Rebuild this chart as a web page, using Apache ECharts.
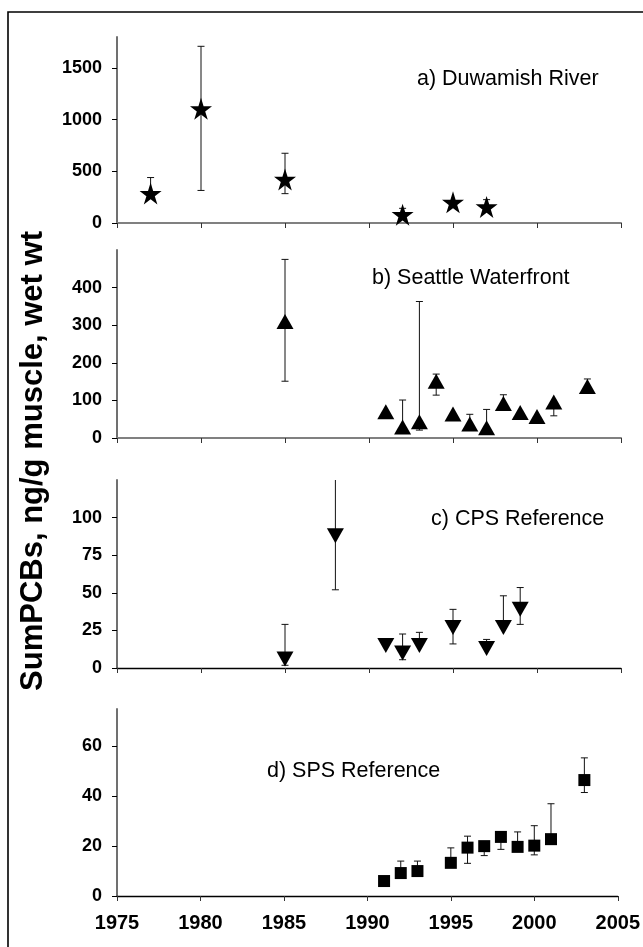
<!DOCTYPE html>
<html>
<head>
<meta charset="utf-8">
<script src="https://cdn.jsdelivr.net/npm/echarts@6/dist/echarts.min.js"></script>
<style>html,body{margin:0;padding:0;background:#fff}#c{width:643px;height:947px}</style>
</head>
<body>
<div id="c"></div>
<script>
// ---- data ----
const panelTitles = ['a) Duwamish River', 'b) Seattle Waterfront', 'c) CPS Reference', 'd) SPS Reference'];
const yAxisTitle = 'SumPCBs, ng/g muscle, wet wt';
const xTicks = [1975, 1980, 1985, 1990, 1995, 2000, 2005];

const yearsA = [1977, 1980, 1985, 1992, 1995, 1997];
const meanA  = [285, 1105, 422, 81, 200, 155];
const upperA = [440, 1710, 675, 142, null, 226];
const lowerA = [null, 315, 284, null, null, null];

const yearsB = [1985, 1991, 1992, 1993, 1994, 1995, 1996, 1997, 1998, 1999, 2000, 2001, 2003];
const meanB  = [310, 70, 29, 43, 151, 64, 37, 27, 92, 68, 57, 96, 137];
const upperB = [475, null, 101, 363, 170, null, 63, 76, 115, null, null, null, 157];
const lowerB = [151, null, null, 21, 114, null, null, null, null, null, null, 59, null];

const yearsC = [1985, 1988, 1991, 1992, 1993, 1995, 1997, 1998, 1999];
const meanC  = [6, 88, 15, 10, 15, 27, 13, 27, 39];
const upperC = [29, 130, null, 22.6, 23.7, 39, 19, 48, 53.5];
const lowerC = [1.8, 52, null, 5.5, null, 16, null, null, 29];

const yearsD = [1991, 1992, 1993, 1995, 1996, 1997, 1998, 1999, 2000, 2001, 2003];
const meanD  = [6.0, 9.2, 10, 13.3, 19.4, 20, 23.7, 19.7, 20.2, 22.8, 46.5];
const upperD = [null, 14, 14, 19.3, 24, null, null, 25.7, 28.2, 37, 55.4];
const lowerD = [null, null, null, null, 13.1, 16.2, 18.7, null, 16.5, null, 41.5];

const yMax   = [1800, 500, 125, 75];
const yStep  = [500, 100, 25, 20];
const yTickValues = [[0, 500, 1000, 1500], [0, 100, 200, 300, 400], [0, 25, 50, 75, 100], [0, 20, 40, 60]];

// ---- layout / style ----
const FONT = '"Liberation Sans", Arial, sans-serif';
const grids = [
  {top: 37, height: 186},
  {top: 250, height: 188},
  {top: 480, height: 188},
  {top: 709, height: 187}
];
const STAR = 'path://M50,0 L61.2,34.5 L97.6,34.5 L68.2,55.9 L79.4,90.5 L50,69.1 L20.6,90.5 L31.8,55.9 L2.4,34.5 L38.8,34.5 Z';
const markers = [
  {symbol: STAR, size: 22, rotate: 0},
  {symbol: 'triangle', size: [17, 15], rotate: 0},
  {symbol: 'triangle', size: [17, 15], rotate: 180},
  {symbol: 'rect', size: [12, 12], rotate: 0}
];
const panels = [
  [yearsA, meanA, lowerA, upperA],
  [yearsB, meanB, lowerB, upperB],
  [yearsC, meanC, lowerC, upperC],
  [yearsD, meanD, lowerD, upperD]
];
const xLineColor = ['#808080', '#808080', '#000', '#000'];

function errRender(params, api) {
  const x = api.value(0), m = api.value(1), lo = api.value(2), hi = api.value(3);
  const pm = api.coord([x, m]);
  const children = [];
  const cap = 3.5;
  const st = {stroke: '#111', lineWidth: 1};
  function add(v) {
    if (v == null || isNaN(v)) return;
    const p = api.coord([x, v]);
    children.push({type: 'line', shape: {x1: pm[0], y1: pm[1], x2: p[0], y2: p[1]}, style: st});
    children.push({type: 'line', shape: {x1: p[0] - cap, y1: p[1], x2: p[0] + cap, y2: p[1]}, style: st});
  }
  add(hi); add(lo);
  return {type: 'group', children: children};
}

const option = {
  animation: false,
  backgroundColor: '#fff',
  grid: grids.map(g => ({left: 117, right: 22, top: g.top, height: g.height, containLabel: false})),
  xAxis: grids.map((g, i) => ({
    type: 'value', gridIndex: i, min: 1975, max: 2005, interval: 5,
    axisLine: {show: true, onZero: false, lineStyle: {color: xLineColor[i], width: i < 2 ? 2 : 1.3}},
    axisTick: {show: true, inside: false, length: 5, lineStyle: {color: '#333', width: 1}},
    axisLabel: {show: i === 3, margin: 17, fontFamily: FONT, fontWeight: 'bold', fontSize: 20, color: '#000',
      formatter: v => xTicks.includes(v) ? String(v) : ''},
    splitLine: {show: false}
  })),
  yAxis: grids.map((g, i) => ({
    type: 'value', gridIndex: i, min: 0, max: yMax[i], interval: yStep[i],
    axisLine: {show: true, lineStyle: {color: '#707070', width: 2}},
    axisTick: {show: true, inside: false, length: 5, customValues: yTickValues[i], lineStyle: {color: '#000', width: 1}},
    axisLabel: {margin: 15, customValues: yTickValues[i], fontFamily: FONT, fontWeight: 'bold', fontSize: 18, color: '#000',
      formatter: v => String(v)},
    splitLine: {show: false}
  })),
  series: [],
  graphic: [
    {type: 'rect', z: 100, silent: true, shape: {x: 8, y: 12, width: 700, height: 1000},
     style: {fill: 'none', stroke: '#000', lineWidth: 1.6}},
    {type: 'text', rotation: Math.PI / 2, x: 33, y: 461,
     style: {text: yAxisTitle, font: 'bold 31px ' + FONT, fill: '#000', textAlign: 'center', textVerticalAlign: 'middle'}},
    {type: 'text', x: 417, y: 79, style: {text: panelTitles[0], font: '21.5px ' + FONT, fill: '#000', textVerticalAlign: 'middle'}},
    {type: 'text', x: 372, y: 278, style: {text: panelTitles[1], font: '21.5px ' + FONT, fill: '#000', textVerticalAlign: 'middle'}},
    {type: 'text', x: 431, y: 519, style: {text: panelTitles[2], font: '21.5px ' + FONT, fill: '#000', textVerticalAlign: 'middle'}},
    {type: 'text', x: 267, y: 771, style: {text: panelTitles[3], font: '21.5px ' + FONT, fill: '#000', textVerticalAlign: 'middle'}}
  ]
};

panels.forEach((p, i) => {
  const [yrs, mean, lo, hi] = p;
  option.series.push({
    type: 'custom', xAxisIndex: i, yAxisIndex: i, clip: true, z: 2,
    renderItem: errRender,
    data: yrs.map((y, k) => [y, mean[k], lo[k] == null ? NaN : lo[k], hi[k] == null ? NaN : hi[k]]),
    encode: {x: 0, y: 1}
  });
  option.series.push({
    type: 'scatter', xAxisIndex: i, yAxisIndex: i, z: 3,
    symbol: markers[i].symbol, symbolSize: markers[i].size, symbolRotate: markers[i].rotate,
    itemStyle: {color: '#000', opacity: 1},
    data: yrs.map((y, k) => [y, mean[k]])
  });
});

const chart = echarts.init(document.getElementById('c'), null, {renderer: 'canvas'});
chart.setOption(option);
</script>
</body>
</html>
